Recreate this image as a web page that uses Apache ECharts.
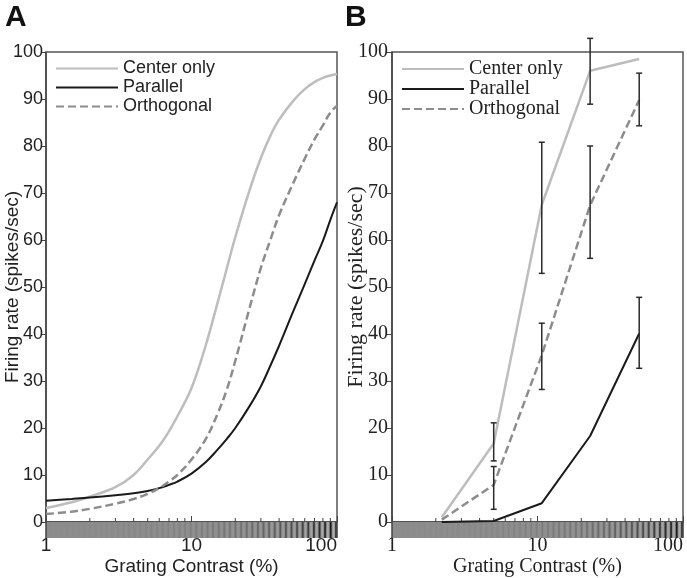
<!DOCTYPE html>
<html>
<head>
<meta charset="utf-8">
<script src="https://cdn.jsdelivr.net/npm/echarts@6/dist/echarts.min.js"></script>
<style>
  html, body { margin: 0; padding: 0; background: #fff; }
  #chart { width: 687px; height: 578px; }
</style>
</head>
<body>
<div id="chart"></div>
<script>
// panel A: fitted curves
var contrastA = [1, 1.5, 2, 3, 4, 5, 6, 7, 8, 10, 12.5, 15, 17.5, 20, 25, 30, 35, 40, 50, 60, 70, 80, 90, 100]
var centerA = [3.0, 4.2, 5.4, 7.4, 10.0, 13.3, 16.2, 19.3, 22.5, 28.5, 37.5, 46.3, 54, 60.6, 70.5, 77.5, 82.3, 85.6, 89.6, 92.1, 93.6, 94.5, 95, 95.3]
var parallelA = [4.5, 4.9, 5.2, 5.7, 6.1, 6.6, 7.2, 7.9, 8.6, 10.3, 12.7, 15.3, 17.7, 20, 24.6, 28.9, 33.4, 37.5, 44.8, 50.6, 55.6, 59.8, 64.3, 68]
var orthoA = [1.7, 2.2, 2.8, 3.9, 4.9, 6.0, 7.2, 8.6, 10.0, 13.3, 17.6, 22.8, 28.2, 34.3, 45.4, 54.1, 60.2, 65.3, 72.1, 77.3, 81.4, 84.4, 87.1, 88.6]

// panel B: measured points with error bars
var contrastB = [2.2, 5, 10.7, 23, 50]
var centerB = [1, 16.7, 67.5, 96, 98.5]
var parallelB = [0, 0.2, 4.0, 18.3, 40.1]
var orthoB = [0.5, 7.9, 35.5, 67.4, 89.8]
var centerErrX = [5, 10.7, 23]
var centerErrLo = [13, 52.9, 88.9]
var centerErrHi = [21.1, 80.8, 102.9]
var orthoErrX = [5, 10.7, 23, 50]
var orthoErrLo = [2.7, 28.2, 56.1, 84.3]
var orthoErrHi = [11.8, 42.3, 80, 95.5]
var parallelErrX = [50]
var parallelErrLo = [32.7]
var parallelErrHi = [47.8]

var minorTicks = [2, 3, 4, 5, 6, 7, 8, 9, 20, 30, 40, 50, 60, 70, 80, 90]
var xMin = 1
var xMax = 100

var names = ['Center only', 'Parallel', 'Orthogonal']
var sans = 'Liberation Sans, Arial, sans-serif'
var serif = 'Liberation Serif, Times New Roman, serif'

function pairs(xs, ys) {
  return xs.map(function (x, i) { return [x, ys[i]] })
}
function errs(xs, lo, hi) {
  return xs.map(function (x, i) { return [x, lo[i], hi[i]] })
}

// grating strip under the x axis, contrast grows with the axis value
function renderGrating(params, api) {
  var cs = params.coordSys
  var top = cs.y + cs.height
  var h = 16
  var kids = []
  var lmin = Math.log10(xMin), lmax = Math.log10(xMax)
  for (var i = 0; i < cs.width; i++) {
    var f = (i + 0.5) / cs.width
    var k = Math.pow(10, lmin + f * (lmax - lmin)) / 100
    var s = Math.sin(2 * Math.PI * i / 5.6)
    var g = Math.round(140 + k * (s > 0 ? 35 * s : 125 * s))
    kids.push({
      type: 'rect',
      shape: { x: cs.x + i, y: top, width: 1.3, height: h },
      style: { fill: 'rgb(' + g + ',' + g + ',' + g + ')' }
    })
  }
  kids.push({ type: 'line', shape: { x1: cs.x, y1: top, x2: cs.x, y2: top + h }, style: { stroke: '#444', lineWidth: 1.5 } })
  kids.push({ type: 'line', shape: { x1: cs.x + cs.width, y1: top, x2: cs.x + cs.width, y2: top + h }, style: { stroke: '#555', lineWidth: 1.5 } })
  return { type: 'group', children: kids }
}

function renderMinorTick(params, api) {
  var p = api.coord([api.value(0), 0])
  return { type: 'line', shape: { x1: p[0], y1: p[1], x2: p[0], y2: p[1] - 4 }, style: { stroke: '#444', lineWidth: 1 } }
}

function renderErr(params, api) {
  var lo = api.coord([api.value(0), api.value(1)])
  var hi = api.coord([api.value(0), api.value(2)])
  var st = { stroke: '#2a2a2a', lineWidth: 1.5 }
  return {
    type: 'group',
    children: [
      { type: 'line', shape: { x1: lo[0], y1: lo[1], x2: hi[0], y2: hi[1] }, style: st },
      { type: 'line', shape: { x1: lo[0] - 3, y1: lo[1], x2: lo[0] + 3, y2: lo[1] }, style: st },
      { type: 'line', shape: { x1: hi[0] - 3, y1: hi[1], x2: hi[0] + 3, y2: hi[1] }, style: st }
    ]
  }
}

function xAxisFor(gi, font, size, nameSize) {
  return {
    gridIndex: gi,
    type: 'log',
    logBase: 10,
    min: xMin,
    max: xMax,
    name: 'Grating Contrast (%)',
    nameLocation: 'middle',
    nameGap: 35,
    nameMoveOverlap: false,
    nameTextStyle: { fontFamily: font, fontSize: nameSize, color: '#222' },
    axisLine: { lineStyle: { color: '#444', width: 1.5 } },
    axisTick: { inside: true, length: 6, lineStyle: { color: '#444' } },
    axisLabel: { margin: 14, fontFamily: font, fontSize: size, color: '#222', alignMaxLabel: 'right' },
    splitLine: { show: false }
  }
}

function yAxisFor(gi, font, size, nameSize, gap, margin) {
  return {
    gridIndex: gi,
    type: 'value',
    min: 0,
    max: 100,
    interval: 10,
    name: 'Firing rate (spikes/sec)',
    nameLocation: 'middle',
    nameGap: gap,
    nameMoveOverlap: false,
    nameTextStyle: { fontFamily: font, fontSize: nameSize, color: '#222' },
    axisLine: { lineStyle: { color: '#444', width: 1.5 } },
    axisTick: { inside: false, length: 5, lineStyle: { color: '#444' } },
    axisLabel: { margin: margin, fontFamily: font, fontSize: size, color: '#222' },
    splitLine: { show: false }
  }
}

var lineStyles = [
  { color: '#bdbdbd', width: 2.5, type: 'solid' },
  { color: '#1a1a1a', width: 2, type: 'solid' },
  { color: '#8c8c8c', width: 2.5, type: [8, 4] }
]

function lineSeries(gi, name, data, st, smooth) {
  return {
    name: name,
    type: 'line',
    xAxisIndex: gi,
    yAxisIndex: gi,
    data: data,
    smooth: smooth,
    symbol: 'none',
    itemStyle: { color: st.color },
    lineStyle: { color: st.color, width: st.width, type: st.type }
  }
}

function legendFor(left, font, size) {
  return {
    data: names.map(function (n) { return { name: n } }),
    orient: 'vertical', left: left, top: 54, itemWidth: 62, itemHeight: 12, itemGap: 0,
    itemStyle: { opacity: 0 },
    textStyle: { fontFamily: font, fontSize: size, color: '#222', lineHeight: 19 },
    selectedMode: false
  }
}

var chart = echarts.init(document.getElementById('chart'))

var option = {
  animation: false,
  backgroundColor: '#fff',
  graphic: [
    { type: 'text', left: 5, top: 3, style: { text: 'A', font: 'bold 30px ' + sans, fill: '#111' } },
    { type: 'text', left: 345, top: 3, style: { text: 'B', font: 'bold 30px ' + sans, fill: '#111' } }
  ],
  grid: [
    { left: 46, right: 350, top: 52, bottom: 56, show: true, borderColor: '#555', borderWidth: 1.5, outerBoundsMode: 'none' },
    { left: 392, right: 4, top: 52, bottom: 56, show: true, borderColor: '#555', borderWidth: 1.5, outerBoundsMode: 'none' }
  ],
  legend: [legendFor(50, sans, 18), legendFor(396, serif, 20)],
  xAxis: [xAxisFor(0, sans, 19, 19), xAxisFor(1, serif, 20, 20)],
  yAxis: [yAxisFor(0, sans, 18, 19, 24, 3), yAxisFor(1, serif, 20, 22, 25, 4)],
  series: [
    { type: 'custom', xAxisIndex: 0, yAxisIndex: 0, data: [[1, 0]], renderItem: renderGrating, silent: true, z: 1 },
    { type: 'custom', xAxisIndex: 1, yAxisIndex: 1, data: [[1, 0]], renderItem: renderGrating, silent: true, z: 1 },
    { type: 'custom', xAxisIndex: 0, yAxisIndex: 0, data: minorTicks.map(function (v) { return [v, 0] }), renderItem: renderMinorTick, silent: true },
    { type: 'custom', xAxisIndex: 1, yAxisIndex: 1, data: minorTicks.map(function (v) { return [v, 0] }), renderItem: renderMinorTick, silent: true },

    lineSeries(0, names[0], pairs(contrastA, centerA), lineStyles[0], 0.4),
    lineSeries(0, names[1], pairs(contrastA, parallelA), lineStyles[1], 0.4),
    lineSeries(0, names[2], pairs(contrastA, orthoA), lineStyles[2], 0.4),

    lineSeries(1, names[0], pairs(contrastB, centerB), lineStyles[0], false),
    lineSeries(1, names[1], pairs(contrastB, parallelB), lineStyles[1], false),
    lineSeries(1, names[2], pairs(contrastB, orthoB), lineStyles[2], false),

    { type: 'custom', xAxisIndex: 1, yAxisIndex: 1, data: errs(centerErrX, centerErrLo, centerErrHi), renderItem: renderErr, z: 5 },
    { type: 'custom', xAxisIndex: 1, yAxisIndex: 1, data: errs(orthoErrX, orthoErrLo, orthoErrHi), renderItem: renderErr, z: 5 },
    { type: 'custom', xAxisIndex: 1, yAxisIndex: 1, data: errs(parallelErrX, parallelErrLo, parallelErrHi), renderItem: renderErr, z: 5 }
  ]
}

chart.setOption(option)
</script>
</body>
</html>
